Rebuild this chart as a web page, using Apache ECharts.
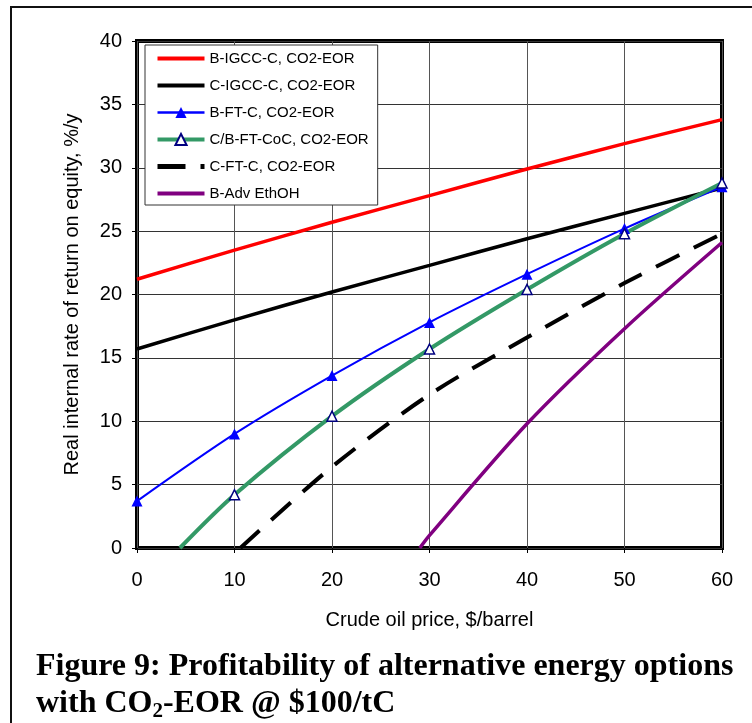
<!DOCTYPE html>
<html>
<head>
<meta charset="utf-8">
<script src="https://cdn.jsdelivr.net/npm/echarts@6/dist/echarts.min.js"></script>
<style>html,body{margin:0;padding:0;background:#fff}#c{width:752px;height:723px}</style>
</head>
<body>
<div id="c"></div>
<script>
// Crude oil price, $/barrel
const priceTicks = [0, 10, 20, 30, 40, 50, 60];
// Real IRR on equity, %/y
const bIgccC = [21.2, 23.5, 25.7, 27.8, 29.9, 31.9, 33.8];
const cIgccC = [15.7, 18.0, 20.2, 22.3, 24.4, 26.4, 28.4];
const bFtC = [3.7, 9.0, 13.6, 17.8, 21.6, 25.2, 28.5];
const cbFtCoCPrice = [4.4, 10, 20, 30, 40, 50, 60];
const cbFtCoC = [0, 4.2, 10.4, 15.7, 20.4, 24.8, 28.8];
const cFtCPrice = [10.6, 20, 30, 40, 50, 60];
const cFtC = [0, 6.4, 12.1, 16.6, 20.9, 24.8];
const bAdvPrice = [29.0, 30, 40, 50, 60];
const bAdv = [0, 1.0, 9.8, 17.3, 24.1];

const seriesNames = ['B-IGCC-C, CO2-EOR', 'C-IGCC-C, CO2-EOR', 'B-FT-C, CO2-EOR',
  'C/B-FT-CoC, CO2-EOR', 'C-FT-C, CO2-EOR', 'B-Adv EthOH'];

function pairs(xs, ys) { return xs.map((x, i) => [x, ys[i]]); }

const chart = echarts.init(document.getElementById('c'), null, {renderer: 'canvas'});
const sans = '"Liberation Sans", Arial, sans-serif';

const greenData = pairs(cbFtCoCPrice, cbFtCoC).map((p, i) => i === 0 ? {value: p, symbol: 'none'} : p);
const noSym = {opacity: 0};

chart.setOption({
  animation: false,
  backgroundColor: '#fff',
  grid: {left: 137, right: 30, top: 41, bottom: 175, show: true, borderColor: '#000', borderWidth: 4, containLabel: false},
  xAxis: {
    type: 'value', min: 0, max: 60, interval: 10,
    name: 'Crude oil price, $/barrel', nameLocation: 'middle', nameGap: 62,
    nameTextStyle: {fontFamily: sans, fontSize: 20, color: '#000'},
    axisLine: {show: false},
    axisTick: {show: true, length: 5, lineStyle: {color: '#000', width: 1}},
    axisLabel: {fontFamily: sans, fontSize: 20, color: '#000', margin: 22},
    splitLine: {show: true, lineStyle: {color: '#555', width: 1}}
  },
  yAxis: {
    type: 'value', min: 0, max: 40, interval: 5,
    name: 'Real internal rate of return on equity, %/y', nameLocation: 'middle', nameGap: 55,
    nameTextStyle: {fontFamily: sans, fontSize: 20, color: '#000'},
    axisLine: {show: false},
    axisTick: {show: true, length: 5, lineStyle: {color: '#000', width: 1}},
    axisLabel: {fontFamily: sans, fontSize: 20, color: '#000', margin: 15},
    splitLine: {show: true, lineStyle: {color: '#333', width: 1}}
  },
  legend: {
    orient: 'vertical', left: 145, top: 45,
    data: [
      {name: seriesNames[0], itemStyle: noSym, lineStyle: {width: 4}},
      {name: seriesNames[1], itemStyle: noSym, lineStyle: {width: 4}},
      {name: seriesNames[2], lineStyle: {width: 2.5}},
      {name: seriesNames[3], lineStyle: {width: 4}},
      {name: seriesNames[4], itemStyle: noSym, lineStyle: {width: 5, type: [28, 15], cap: 'butt'}},
      {name: seriesNames[5], itemStyle: noSym, lineStyle: {width: 4}}
    ],
    backgroundColor: '#fff', borderColor: '#333', borderWidth: 1,
    padding: [6, 9, 4, 10],
    itemWidth: 47, itemHeight: 14, itemGap: 12,
    textStyle: {fontFamily: sans, fontSize: 15, color: '#000'}
  },
  title: {
    left: 31, top: 643,
    text: 'Figure 9: Profitability of alternative energy options\nwith CO{sub|2}-EOR @ $100/tC',
    textStyle: {
      fontFamily: '"Liberation Serif", "Times New Roman", serif', fontWeight: 'bold', fontSize: 32, color: '#000', lineHeight: 37,
      rich: {sub: {fontFamily: '"Liberation Serif", serif', fontWeight: 'bold', fontSize: 21, color: '#000', verticalAlign: 'bottom', lineHeight: 37, padding: [9, 0, 0, 0]}}
    }
  },
  graphic: [{
    type: 'rect', shape: {x: 11, y: 7, width: 900, height: 900},
    style: {fill: 'none', stroke: '#111', lineWidth: 2}, silent: true, z: -1
  }],
  series: [
    {name: seriesNames[0], type: 'line', data: pairs(priceTicks, bIgccC), smooth: 0.3, symbol: 'none',
      lineStyle: {color: '#ff0000', width: 3.5}, itemStyle: {color: '#ff0000'}},
    {name: seriesNames[1], type: 'line', data: pairs(priceTicks, cIgccC), smooth: 0.3, symbol: 'none',
      lineStyle: {color: '#000', width: 3.5}, itemStyle: {color: '#000'}},
    {name: seriesNames[2], type: 'line', data: pairs(priceTicks, bFtC), smooth: 0.3, symbol: 'triangle', symbolSize: 11,
      lineStyle: {color: '#0000ff', width: 2}, itemStyle: {color: '#0000ff'}},
    {name: seriesNames[3], type: 'line', data: greenData, smooth: 0.3, symbol: 'triangle', symbolSize: 10,
      lineStyle: {color: '#339966', width: 4}, itemStyle: {color: '#ffffff', borderColor: '#000080', borderWidth: 1.5}},
    {name: seriesNames[4], type: 'line', data: pairs(cFtCPrice, cFtC), smooth: 0.3, symbol: 'none',
      lineStyle: {color: '#000', width: 4, type: [26, 16], cap: 'butt'}, itemStyle: {color: '#000'}},
    {name: seriesNames[5], type: 'line', data: pairs(bAdvPrice, bAdv), smooth: 0.3, symbol: 'none',
      lineStyle: {color: '#800080', width: 3.5}, itemStyle: {color: '#800080'}}
  ]
});
</script>
</body>
</html>
